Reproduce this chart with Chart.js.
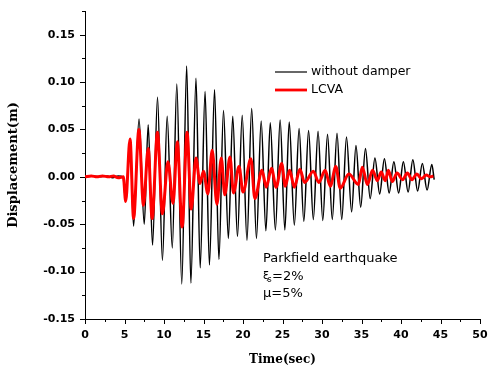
<!DOCTYPE html>
<html>
<head>
<meta charset="utf-8">
<script src="https://cdn.jsdelivr.net/npm/chart.js@4"></script>
<style>
  html, body { margin: 0; padding: 0; background: #fff; }
  #chart { display: block; }
</style>
</head>
<body>
<canvas id="chart" width="490" height="371"></canvas>
<script>
// --- Displacement time histories (time in sec, displacement in m) ---
const blackTime = [0, 1.0, 2.0, 2.8, 3.5, 4.2, 4.8, 5.15, 5.7, 6.15, 6.84, 7.5, 8.0, 8.55, 9.18, 9.8,
  10.4, 11.05, 11.62, 12.25, 12.87, 13.4, 14.05, 14.58, 15.2, 15.75, 16.4, 16.95, 17.53, 18.15, 18.7,
  19.3, 19.9, 20.5, 21.1, 21.7, 22.3, 22.9, 23.45, 24.1, 24.7, 25.3, 25.85, 26.5, 27.1, 27.7, 28.3,
  28.9, 29.5, 30.1, 30.7, 31.3, 31.9, 32.5, 33.1, 33.75, 34.3, 34.9, 35.5, 36.1, 36.7, 37.3, 37.9,
  38.5, 39.1, 39.7, 40.3, 40.9, 41.5, 42.1, 42.7, 43.3, 43.9, 44.2];
const blackDisp = [0, 0.001, 0, 0.001, -0.001, 0.001, 0, -0.025, 0.040, -0.052, 0.061, -0.050, 0.055,
  -0.072, 0.084, -0.088, 0.064, -0.075, 0.098, -0.113, 0.117, -0.112, 0.104, -0.096, 0.090, -0.093,
  0.092, -0.087, 0.070, -0.065, 0.064, -0.063, 0.065, -0.067, 0.072, -0.065, 0.059, -0.057, 0.057,
  -0.056, 0.060, -0.056, 0.058, -0.051, 0.051, -0.047, 0.049, -0.045, 0.048, -0.046, 0.045, -0.045,
  0.046, -0.045, 0.042, -0.037, 0.033, -0.032, 0.030, -0.023, 0.020, -0.018, 0.019, -0.017, 0.016,
  -0.017, 0.016, -0.016, 0.018, -0.015, 0.014, -0.014, 0.013, -0.003];

const redTime = [0, 0.8, 1.5, 2.2, 3.0, 3.6, 4.2, 4.85, 5.15, 5.7, 6.15, 6.82, 7.4, 8.0, 8.5, 9.17,
  9.8, 10.5, 11.15, 11.68, 12.3, 12.92, 13.45, 14.05, 14.55, 15.0, 15.55, 16.1, 16.7, 17.25, 17.7,
  18.35, 18.8, 19.5, 20.0, 21.0, 21.5, 22.4, 22.95, 23.6, 24.2, 24.9, 25.35, 25.9, 26.5, 27.2, 27.8,
  28.9, 29.6, 30.4, 31.05, 31.75, 32.3, 33.4, 34.6, 35.1, 35.75, 36.4, 37.0, 37.5, 38.0, 38.4, 38.9,
  39.5, 40.2, 40.8, 41.4, 42.0, 42.6, 43.2, 43.7, 44.1];
const redDisp = [0, 0.001, 0, 0.001, 0, 0.001, -0.001, 0, -0.026, 0.040, -0.044, 0.050, -0.030,
  0.030, -0.044, 0.047, -0.039, 0.016, -0.028, 0.037, -0.053, 0.047, -0.034, 0.020, -0.007, 0.006,
  -0.018, 0.028, -0.029, 0.020, -0.019, 0.021, -0.017, 0.011, -0.016, 0.019, -0.023, 0.007, -0.011,
  0.009, -0.011, 0.014, -0.010, 0.007, -0.011, 0.008, -0.006, 0.006, -0.006, 0.007, -0.010, 0.011,
  -0.012, 0.003, -0.008, 0.010, -0.008, 0.007, -0.004, 0.005, -0.004, 0.007, -0.005, 0.004, -0.003,
  0.004, -0.003, 0.003, -0.002, 0.002, 0, 0.001];

const seriesNames = ["without damper", "LCVA"];
const noteLines = ["Parkfield earthquake", "=2%", "μ=5%"];

const toPoints = (xs, ys) => xs.map((t, i) => ({ x: t, y: ys[i] }));
const isMultiple = (v, step) => Math.abs(v / step - Math.round(v / step)) < 1e-6;

// drop the label overhang padding so the plot box follows layout.padding
const noEdgePadding = (scale) => {
  scale.paddingTop = 0;
  scale.paddingBottom = 0;
  scale.paddingLeft = 0;
  scale.paddingRight = 0;
};

// --- Tick marks: long at labelled values, short in between ---
const axisTicks = {
  id: "axisTicks",
  afterDraw(chart) {
    const ctx = chart.ctx;
    const { x, y } = chart.scales;
    ctx.save();
    ctx.strokeStyle = "#000";
    ctx.lineWidth = 1;
    ctx.beginPath();
    x.ticks.forEach((t) => {
      const px = Math.round(x.getPixelForValue(t.value)) + 0.5;
      ctx.moveTo(px, x.top);
      ctx.lineTo(px, x.top + (isMultiple(t.value, 5) ? 5 : 3));
    });
    y.ticks.forEach((t) => {
      const py = Math.round(y.getPixelForValue(t.value)) + 0.5;
      ctx.moveTo(y.right, py);
      ctx.lineTo(y.right - (isMultiple(t.value, 0.05) ? 5 : 3), py);
    });
    ctx.stroke();
    ctx.restore();
  },
};

// --- Legend and earthquake note ---
const chartNotes = {
  id: "chartNotes",
  afterDraw(chart) {
    const ctx = chart.ctx;
    ctx.save();
    ctx.textBaseline = "middle";
    ctx.fillStyle = "#000";

    // legend rows
    const rows = [
      { y: 72, color: "#000", width: 1.2 },
      { y: 90, color: "#ff0000", width: 2.8 },
    ];
    ctx.font = "12.5px 'DejaVu Sans'";
    rows.forEach((r, i) => {
      ctx.strokeStyle = r.color;
      ctx.lineWidth = r.width;
      ctx.beginPath();
      ctx.moveTo(275, r.y);
      ctx.lineTo(307, r.y);
      ctx.stroke();
      ctx.fillText(seriesNames[i], 311, r.y);
    });

    // note text
    ctx.font = "13px 'DejaVu Sans'";
    ctx.fillText(noteLines[0], 263, 259);
    ctx.font = "11px 'DejaVu Sans'";
    ctx.fillText("ξ", 263, 276);
    ctx.font = "8px 'DejaVu Sans'";
    ctx.fillText("s", 267.5, 280);
    ctx.font = "13px 'DejaVu Sans'";
    ctx.fillText(noteLines[1], 272, 277);
    ctx.fillText(noteLines[2], 263, 294);
    ctx.restore();
  },
};

const ctx = document.getElementById("chart").getContext("2d");
new Chart(ctx, {
  type: "line",
  data: {
    datasets: [
      {
        label: seriesNames[0],
        data: toPoints(blackTime, blackDisp),
        borderColor: "#000",
        borderWidth: 1.5,
        pointRadius: 0,
        cubicInterpolationMode: "monotone",
        order: 2,
      },
      {
        label: seriesNames[1],
        data: toPoints(redTime, redDisp),
        borderColor: "#ff0000",
        borderWidth: 3,
        pointRadius: 0,
        cubicInterpolationMode: "monotone",
        order: 1,
      },
    ],
  },
  options: {
    responsive: false,
    animation: false,
    devicePixelRatio: 1,
    layout: { padding: { left: 2, top: 11, right: 10, bottom: 4 } },
    plugins: { legend: { display: false }, tooltip: { enabled: false } },
    scales: {
      x: {
        type: "linear",
        min: 0,
        max: 50,
        grid: { display: false, drawTicks: false },
        border: { display: true, color: "#000", width: 1 },
        ticks: {
          stepSize: 2.5,
          autoSkip: false,
          maxRotation: 0,
          padding: 10,
          color: "#000",
          font: { family: "'DejaVu Sans'", size: 11, weight: "bold" },
          callback: (v) => (isMultiple(v, 5) ? String(Math.round(v)) : ""),
        },
        title: {
          display: true,
          text: "Time(sec)",
          color: "#000",
          padding: { top: 6, bottom: 0 },
          font: { family: "'DejaVu Serif'", size: 12, weight: "bold" },
        },
        afterFit: (scale) => {
          scale.height = 48;
          noEdgePadding(scale);
        },
      },
      y: {
        min: -0.15,
        max: 0.175,
        grid: { display: false, drawTicks: false },
        border: { display: true, color: "#000", width: 1 },
        ticks: {
          stepSize: 0.025,
          autoSkip: false,
          padding: 10,
          color: "#000",
          font: { family: "'DejaVu Sans'", size: 11, weight: "bold" },
          callback: (v) => (isMultiple(v, 0.05) ? (Math.round(v * 100) / 100).toFixed(2) : ""),
        },
        title: {
          display: true,
          text: "Displacement(m)",
          color: "#000",
          padding: { top: 4, bottom: 0 },
          font: { family: "'DejaVu Serif'", size: 13, weight: "bold" },
        },
        afterFit: (scale) => {
          scale.width = 83;
          noEdgePadding(scale);
        },
      },
    },
  },
  plugins: [axisTicks, chartNotes],
});
</script>
</body>
</html>
